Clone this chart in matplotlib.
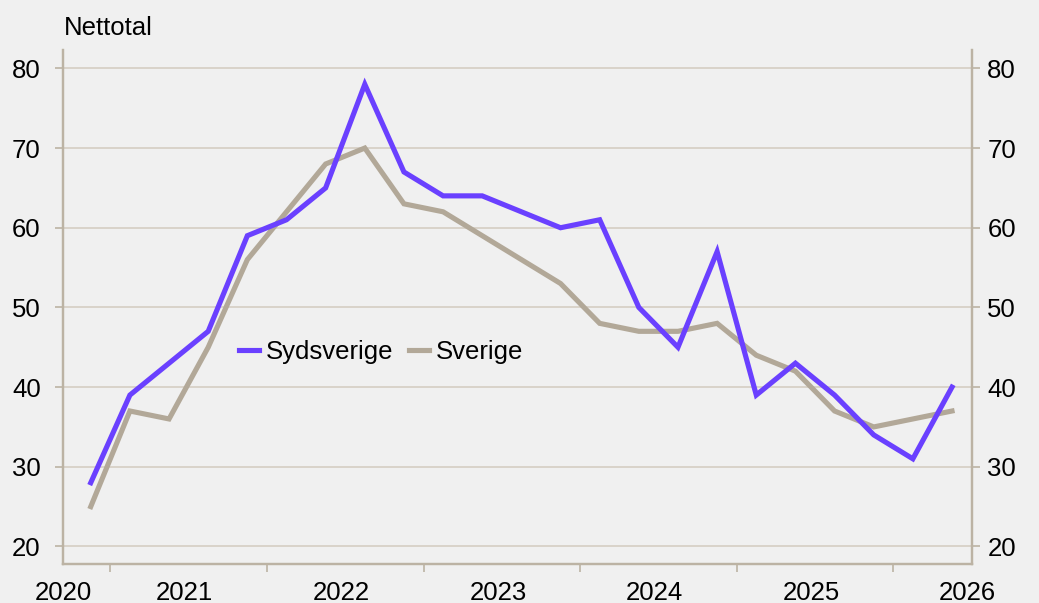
import numpy as np
import matplotlib
matplotlib.use('Agg')
import matplotlib.pyplot as plt

plt.rcParams['font.family'] = ['Liberation Sans', 'DejaVu Sans']

# quarterly series, 2020 Q4 .. 2026 Q2
first_year, first_quarter = 2020, 4
years = [2020, 2021, 2022, 2023, 2024, 2025, 2026]
sydsverige = [28, 39, 43, 47, 59, 61, 65, 78, 67, 64, 64, 62, 60, 61, 50, 45, 57, 39, 43, 39, 34, 31, 40]
sverige = [25, 37, 36, 45, 56, 62, 68, 70, 63, 62, 59, 56, 53, 48, 47, 47, 48, 44, 42, 37, 35, 36, 37]
yticks = [20, 30, 40, 50, 60, 70, 80]

purple = '#6a40ff'
tan = '#b2a898'
bg = '#f0f0f0'
spine_col = '#bcb3a4'
fs = 18.5

x = np.arange(len(sydsverige))

fig = plt.figure(figsize=(10.39, 6.03), dpi=100, facecolor=bg)
ax = fig.add_axes([0.0606, 0.0647, 0.8749, 0.8523])
ax.set_facecolor(bg)

ax.plot(x, sydsverige, color=purple, lw=3.7, solid_joinstyle='miter', label='Sydsverige', zorder=3)
ax.plot(x, sverige, color=tan, lw=3.7, solid_joinstyle='miter', label='Sverige', zorder=2)

xmin, xmax = -0.56, len(x) - 0.49
ylim = (17.8, 82.3)
ax.set_xlim(xmin, xmax)
ax.set_ylim(*ylim)

# year boundaries as major ticks, year labels near the middle of each year as minor ticks
offset = first_quarter - 1
bounds = [4 * (y - first_year) - offset - 0.5 for y in years[1:]]
centers = [4 * (y - first_year) - offset + 1.4 for y in years]
centers = [min(max(c, xmin - 0.15), xmax - 0.12) for c in centers]
ax.set_xticks(bounds)
ax.set_xticklabels([])
ax.set_xticks(centers, minor=True)
ax.set_xticklabels([str(y) for y in years], minor=True)
ax.tick_params(axis='x', which='major', length=6, width=1.2, color=spine_col, direction='out')
ax.tick_params(axis='x', which='minor', length=0, pad=12, labelsize=fs)

ax.set_yticks(yticks)
ax.tick_params(axis='y', length=6, width=1.2, color=spine_col, labelsize=fs, pad=10)
ax.grid(axis='y', color='#d3cbbf', lw=1.1)
ax.set_axisbelow(True)

ax2 = ax.twinx()
ax2.set_ylim(*ylim)
ax2.set_yticks(yticks)
ax2.tick_params(axis='y', length=6, width=1.2, color=spine_col, labelsize=fs, pad=5)

for a in (ax, ax2):
    for side in ['left', 'right', 'bottom']:
        a.spines[side].set_color(spine_col)
        a.spines[side].set_linewidth(1.6)
    a.spines['top'].set_visible(False)

ax.legend(loc='center left', bbox_to_anchor=(0.168, 0.412), frameon=False, ncol=2,
          fontsize=fs, handlelength=0.8, handletextpad=0.25, columnspacing=0.6)

fig.text(0.061, 0.953, 'Nettotal', fontsize=fs, va='center', ha='left')

fig.savefig('out.png', dpi=100, facecolor=bg)
